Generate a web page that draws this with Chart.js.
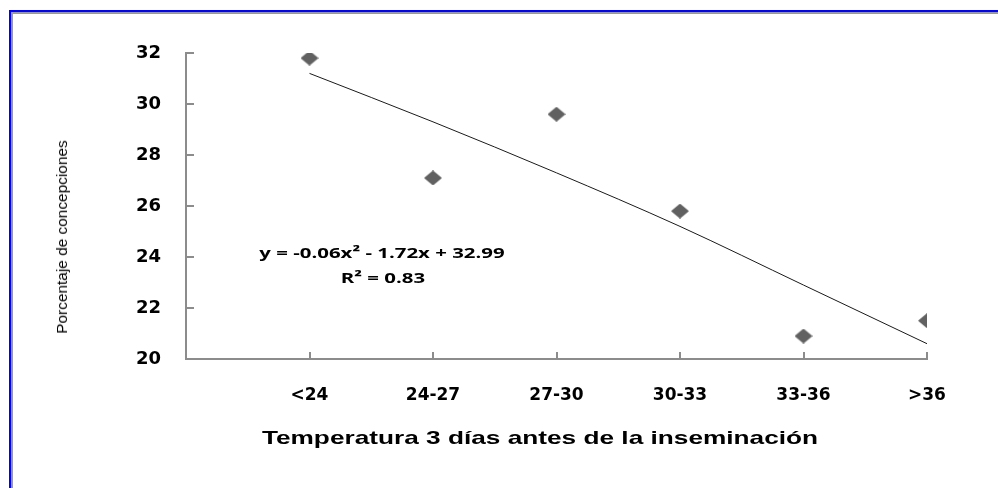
<!DOCTYPE html>
<html>
<head>
<meta charset="utf-8">
<script src="https://cdn.jsdelivr.net/npm/chart.js@4/dist/chart.umd.min.js"></script>
<style>
  html, body { margin: 0; padding: 0; background: #fff; }
  #wrap { position: relative; width: 998px; height: 488px; overflow: hidden; }
  #frame { position: absolute; left: 9px; top: 10px; width: 1000px; height: 500px;
           border-left: 2px solid #0000ff; border-top: 2px solid #0000ff; }
  #frame2 { position: absolute; left: 11px; top: 12px; width: 1000px; height: 500px;
            border-left: 2px solid #9a9a9a; border-top: 2px solid #9a9a9a; }
  canvas { position: absolute; left: 0; top: 0; }
  .txt { position: absolute; white-space: nowrap; color: #000; }
</style>
</head>
<body>
<div id="wrap">
  <div id="frame"></div>
  <div id="frame2"></div>
  <canvas id="chart" width="998" height="488"></canvas>
  <div class="txt" id="ylab" style="left:62px; top:237px; font:14px 'Liberation Sans', Arial, sans-serif; transform: translate(-50%,-50%) rotate(-90deg) scaleX(1.1);">Porcentaje de concepciones</div>
  <div class="txt" id="xlab" style="left:540px; top:438px; font:bold 19px 'Liberation Sans', Arial, sans-serif; transform: translate(-50%,-50%) scaleX(1.38);">Temperatura 3 días antes de la inseminación</div>
  <div class="txt" style="left:382px; top:252px; font:bold 15px 'Open Sans', sans-serif; transform: translate(-50%,-50%) scaleX(1.36);">y = -0.06x² - 1.72x + 32.99</div>
  <div class="txt" style="left:383px; top:277px; font:bold 15px 'Open Sans', sans-serif; transform: translate(-50%,-50%) scaleX(1.36);">R² = 0.83</div>
</div>
<script>
const categories = ['<24', '24-27', '27-30', '30-33', '33-36', '>36'];
const concepciones = [31.8, 27.1, 29.6, 25.8, 20.9, 21.5];
const tendencia = [31.2, 29.3, 27.3, 25.2, 22.9, 20.6];

const axisColor = '#8c8c8c';

// diamond marker, a bit wider than tall like the original
function makeDiamond() {
    const c = document.createElement('canvas');
    c.width = 18;
    c.height = 15;
    const g = c.getContext('2d');
    g.fillStyle = '#616161';
    g.beginPath();
    g.moveTo(9, 0);
    g.lineTo(18, 7.5);
    g.lineTo(9, 15);
    g.lineTo(0, 7.5);
    g.closePath();
    g.fill();
    return c;
}

// tick marks pointing into the plot, like in Excel
const insideTicks = {
    id: 'insideTicks',
    afterDatasetsDraw(chart) {
        const c = chart.ctx;
        const xs = chart.scales.x, ys = chart.scales.y;
        const area = chart.chartArea;
        c.save();
        c.strokeStyle = axisColor;
        c.lineWidth = 2;
        c.beginPath();
        xs.ticks.forEach(t => {
            const px = Math.round(xs.getPixelForValue(t.value));
            c.moveTo(px, area.bottom);
            c.lineTo(px, area.bottom - 7);
        });
        ys.ticks.forEach(t => {
            const py = Math.round(ys.getPixelForValue(t.value));
            c.moveTo(area.left, py);
            c.lineTo(area.left + 8, py);
        });
        c.stroke();
        c.restore();
    }
};

const ctx = document.getElementById('chart').getContext('2d');

new Chart(ctx, {
    data: {
        datasets: [
            {
                type: 'line',
                data: tendencia.map((v, i) => ({ x: i + 1, y: v })),
                borderColor: '#1a1a1a',
                borderWidth: 1,
                pointRadius: 0,
                cubicInterpolationMode: 'monotone',
                fill: false
            },
            {
                type: 'scatter',
                data: concepciones.map((v, i) => ({ x: i + 1, y: v })),
                pointStyle: makeDiamond(),
                pointRadius: 9
            }
        ]
    },
    options: {
        responsive: false,
        animation: false,
        devicePixelRatio: 1,
        layout: { padding: { left: 0, top: 53, right: 71, bottom: 0 } },
        plugins: {
            legend: { display: false },
            tooltip: { enabled: false }
        },
        scales: {
            x: {
                type: 'linear',
                min: 0,
                max: 6,
                afterBuildTicks: (scale) => {
                    scale.ticks = categories.map((c, i) => ({ value: i + 1 }));
                },
                afterFit: (scale) => { scale.height = 129; },
                border: { color: axisColor, width: 2 },
                grid: { display: false, drawTicks: false },
                ticks: {
                    padding: 26,
                    color: '#000',
                    font: { family: 'DejaVu Sans', weight: 'bold', size: 17 },
                    callback: (v) => categories[v - 1] || ''
                }
            },
            y: {
                min: 20,
                max: 32,
                afterFit: (scale) => { scale.width = 186; },
                border: { color: axisColor, width: 2 },
                grid: { display: false, drawTicks: false },
                ticks: {
                    stepSize: 2,
                    padding: 25,
                    color: '#000',
                    font: { family: 'DejaVu Sans', weight: 'bold', size: 18 }
                }
            }
        }
    },
    plugins: [insideTicks]
});
</script>
</body>
</html>
